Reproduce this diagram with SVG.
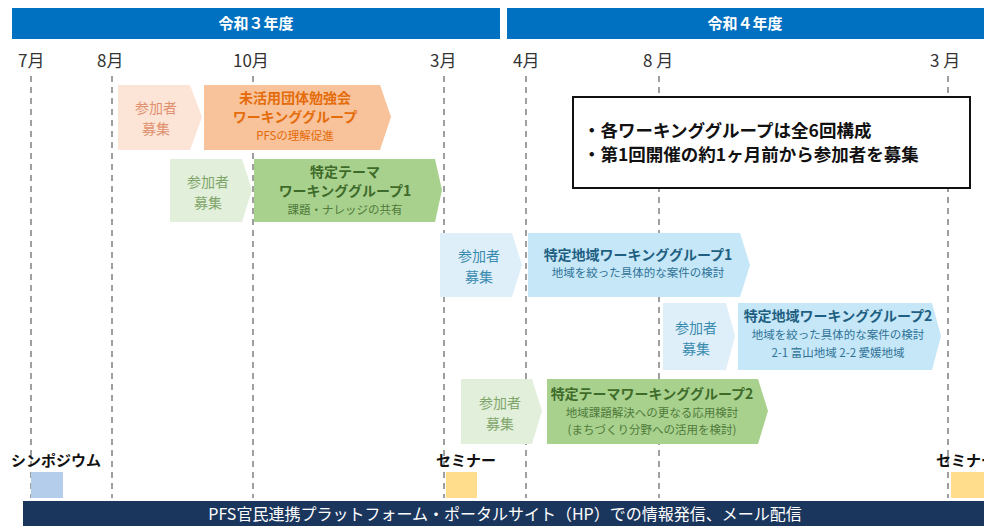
<svg xmlns="http://www.w3.org/2000/svg" width="984" height="526" viewBox="0 0 984 526">
<style>
text{font-family:"Noto Sans CJK JP","Noto Sans",sans-serif}
.hd{fill:#fff;font-size:15px;font-weight:bold;text-anchor:middle}
.mo{fill:#333;font-size:17px}
.dash{stroke:#808080;stroke-width:1.5;stroke-dasharray:6 5;fill:none}
.rec{font-size:14px;text-anchor:middle}
.ttl{font-size:14px;font-weight:bold;text-anchor:middle}
.sub{font-size:11.5px;text-anchor:middle}
.ev{font-size:15px;font-weight:bold;fill:#111;text-anchor:middle}
</style>
<rect width="984" height="526" fill="#fff"/>
<g id="header">
<rect x="12" y="8" width="488" height="31" fill="#0070C0"/>
<rect x="507" y="8" width="477" height="31" fill="#0070C0"/>
<text class="hd" x="256" y="29">令和３年度</text>
<text class="hd" x="745" y="29">令和４年度</text>
</g>
<g id="months">
<text class="mo" x="18" y="67">7月</text>
<text class="mo" x="97" y="67">8月</text>
<text class="mo" x="233" y="67">10月</text>
<text class="mo" x="430" y="67">3月</text>
<text class="mo" x="513" y="67">4月</text>
<text class="mo" x="643" y="67">8 月</text>
<text class="mo" x="930" y="67">3 月</text>
</g>
<g id="connectors">
<line class="dash" x1="31" y1="76" x2="31" y2="498"/>
<line class="dash" x1="112" y1="76" x2="112" y2="498"/>
<line class="dash" x1="253" y1="76" x2="253" y2="498"/>
<line class="dash" x1="444" y1="76" x2="444" y2="498"/>
<line class="dash" x1="526" y1="76" x2="526" y2="498"/>
<line class="dash" x1="659" y1="76" x2="659" y2="498"/>
<line class="dash" x1="948" y1="76" x2="948" y2="498"/>
</g>
<g id="orange-recruit">
<polygon points="118,85 190,85 202,117 190,150 118,150" fill="#FCE4D6"/>
<text class="rec" x="156" y="113" fill="#E0906E">参加者</text>
<text class="rec" x="156" y="134" fill="#E0906E">募集</text>
</g>
<g id="orange-wg">
<polygon points="204,85 380,85 391,117 380,150 204,150" fill="#F8C29A"/>
<text class="ttl" x="295" y="103" font-size="13.5" fill="#E46C0A">未活用団体勉強会</text>
<text class="ttl" x="295" y="122" font-size="13.5" fill="#E46C0A">ワーキンググループ</text>
<text class="sub" x="295" y="140" fill="#E46C0A">PFSの理解促進</text>
</g>
<g id="green-recruit">
<polygon points="170,159 242,159 252,190 242,222 170,222" fill="#E2EFDA"/>
<text class="rec" x="208" y="187" fill="#7FA66A">参加者</text>
<text class="rec" x="208" y="208" fill="#7FA66A">募集</text>
</g>
<g id="green-wg1">
<polygon points="254,159 435,159 442,190 435,222 254,222" fill="#A9D18E"/>
<text class="ttl" x="345" y="177" fill="#3E6B2A">特定テーマ</text>
<text class="ttl" x="345" y="196" fill="#3E6B2A">ワーキンググループ1</text>
<text class="sub" x="345" y="214" fill="#4E7A3A">課題・ナレッジの共有</text>
</g>
<g id="blue-recruit1">
<polygon points="440,233 512,233 522,265 512,297 440,297" fill="#DEEFF9"/>
<text class="rec" x="479" y="261" fill="#3A8BB0">参加者</text>
<text class="rec" x="479" y="282" fill="#3A8BB0">募集</text>
</g>
<g id="blue-wg1">
<polygon points="528,233 740,233 750,265 740,297 528,297" fill="#C5E7F8"/>
<text class="ttl" x="638" y="260" fill="#1F5F82">特定地域ワーキンググループ1</text>
<text class="sub" x="638" y="277" fill="#2F7296">地域を絞った具体的な案件の検討</text>
</g>
<g id="blue-recruit2">
<polygon points="663,303 726,303 735,336 726,370 663,370" fill="#DEEFF9"/>
<text class="rec" x="696" y="333" fill="#3A8BB0">参加者</text>
<text class="rec" x="696" y="354" fill="#3A8BB0">募集</text>
</g>
<g id="blue-wg2">
<polygon points="738,303 932,303 941,336 932,370 738,370" fill="#C5E7F8"/>
<text class="ttl" x="838" y="321" fill="#1F5F82">特定地域ワーキンググループ2</text>
<text class="sub" x="838" y="339" fill="#2F7296">地域を絞った具体的な案件の検討</text>
<text class="sub" x="838" y="357" fill="#2F7296">2-1 富山地域  2-2 愛媛地域</text>
</g>
<g id="green-recruit2">
<polygon points="461,379 532,379 542,411 532,444 461,444" fill="#E2EFDA"/>
<text class="rec" x="500" y="408" fill="#7FA66A">参加者</text>
<text class="rec" x="500" y="429" fill="#7FA66A">募集</text>
</g>
<g id="green-wg2">
<polygon points="547,379 758,379 768,411 758,444 547,444" fill="#A9D18E"/>
<text class="ttl" x="652" y="399" fill="#3E6B2A">特定テーマワーキンググループ2</text>
<text class="sub" x="652" y="417" fill="#4E7A3A">地域課題解決への更なる応用検討</text>
<text class="sub" x="652" y="434" fill="#4E7A3A">(まちづくり分野への活用を検討)</text>
</g>
<g id="note">
<rect x="573" y="97" width="397" height="91" fill="#fff" stroke="#111" stroke-width="2"/>
<text x="583" y="137" font-size="17.5" font-weight="bold" fill="#111">・各ワーキンググループは全6回構成</text>
<text x="583" y="161" font-size="17.5" font-weight="bold" fill="#111">・第1回開催の約1ヶ月前から参加者を募集</text>
</g>
<g id="symposium">
<text class="ev" x="56" y="466">シンポジウム</text>
<rect x="31" y="472" width="32" height="26" fill="#B4CDEB"/>
</g>
<g id="seminar1">
<text class="ev" x="466" y="466">セミナー</text>
<rect x="446" y="472" width="31" height="26" fill="#FFDD8C"/>
</g>
<g id="seminar2">
<text class="ev" x="966" y="466">セミナー</text>
<rect x="951" y="472" width="33" height="26" fill="#FFDD8C"/>
</g>
<g id="bottom-bar">
<rect x="23" y="501" width="961" height="25" fill="#1B365D"/>
<text x="505" y="520" font-size="16" fill="#fff" text-anchor="middle">PFS官民連携プラットフォーム・ポータルサイト（HP）での情報発信、メール配信</text>
</g>
</svg>
